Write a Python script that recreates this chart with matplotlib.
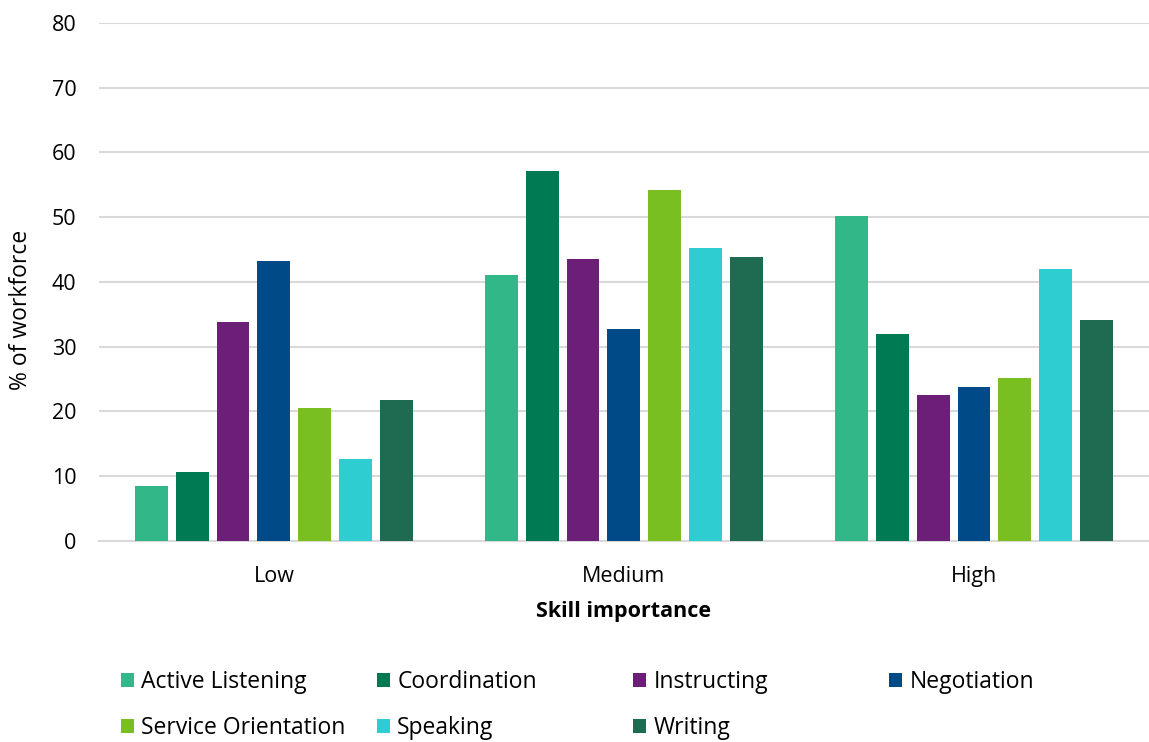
import numpy as np
import matplotlib.pyplot as plt

plt.rcParams['font.family'] = ['Open Sans', 'DejaVu Sans']

# data
categories = ['Low', 'Medium', 'High']
series = ['Active Listening', 'Coordination', 'Instructing', 'Negotiation',
          'Service Orientation', 'Speaking', 'Writing']
active_listening = [8.5, 41.0, 50.2]
coordination = [10.7, 57.1, 32.0]
instructing = [33.8, 43.6, 22.5]
negotiation = [43.3, 32.7, 23.7]
service_orientation = [20.5, 54.2, 25.1]
speaking = [12.6, 45.2, 42.0]
writing = [21.7, 43.8, 34.2]
values = [active_listening, coordination, instructing, negotiation,
          service_orientation, speaking, writing]
colors = ['#31B788', '#007A52', '#6C1F77', '#004B87',
          '#7ABF21', '#2ECDD2', '#1E6B52']

fig = plt.figure(figsize=(11.49, 7.42), dpi=100)
ax = fig.add_axes([0.086, 0.271, 0.914, 0.698])

x = np.arange(len(categories))
step = 0.1168
width = 0.094
bars = []
for i, (name, vals, col) in enumerate(zip(series, values, colors)):
    b = ax.bar(x + (i - 3) * step, vals, width, color=col, label=name, zorder=3)
    bars.append(b)

ax.set_xlim(-0.5, 2.5)
ax.set_ylim(0, 80)
ax.set_yticks(range(0, 81, 10))
ax.set_xticks(x)
ax.set_xticklabels(categories)
ax.grid(axis='y', color='#D9D9D9', linewidth=1.5, zorder=0)
for s in ['top', 'right', 'left']:
    ax.spines[s].set_visible(False)
ax.spines['bottom'].set_color('#D9D9D9')
ax.spines['bottom'].set_linewidth(1.5)
ax.tick_params(axis='both', length=0, labelsize=15.5, colors='black')
ax.tick_params(axis='y', pad=16)
ax.tick_params(axis='x', pad=18)
ax.set_ylabel('% of workforce', fontsize=16.5)
ax.yaxis.set_label_coords(-0.063, 0.446)
ax.set_xlabel('Skill importance', fontsize=15.5, fontweight='bold', labelpad=10)

# legend laid out on a fixed grid like the original
x0, dx = 0.105, 0.2228
y0, dy = 0.081, 0.062
for i, b in enumerate(bars):
    col, row = i % 4, i // 4
    fig.legend(handles=[b], loc='center left',
               bbox_to_anchor=(x0 + col * dx, y0 - row * dy),
               frameon=False, fontsize=16.5, handlelength=0.6,
               handleheight=0.6, handletextpad=0.3, borderpad=0,
               borderaxespad=0)

fig.savefig('out.png', dpi=100)
